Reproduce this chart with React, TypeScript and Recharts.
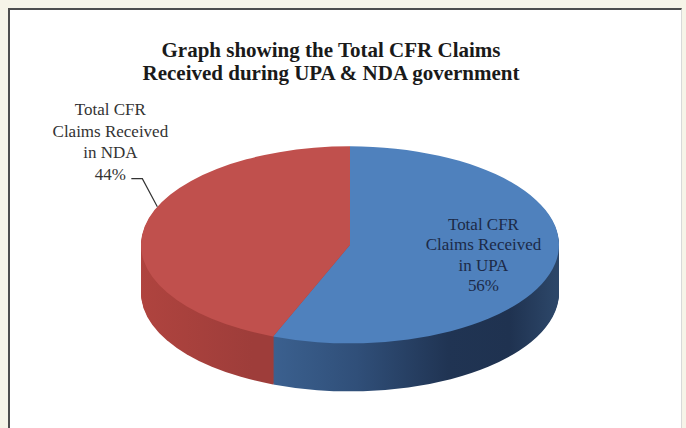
import React from "react";
import { PieChart, Pie, Cell } from "recharts";

// ---- data ----
const categories = ["Total CFR Claims Received in UPA", "Total CFR Claims Received in NDA"];
const shareValues = [56, 44];
const labelLines = [
  ["Total CFR", "Claims Received", "in UPA"],
  ["Total CFR", "Claims Received", "in NDA"],
];
const titleLines = ["Graph showing the Total CFR Claims", "Received during UPA & NDA government"];

const topColors = ["#4f81bd", "#c0504d"];
const sideFills = ["url(#blueSide)", "url(#redSide)"];

const data = categories.map((name, i) => ({ name, value: shareValues[i] }));

// ---- geometry (screen px) ----
const W = 686;
const H = 428;
const CX = 345;
const CY = 242.5;
const R = 209;
const RY = 98.5;
const DEPTH = 48;
const K = RY / R;
const INNER_H = H / K;
const RAD = Math.PI / 180;
const FONT = "'Liberation Serif', 'Times New Roman', serif";

const depthLayers: number[] = [];
for (let i = DEPTH; i >= 1; i--) depthLayers.push(i);

const renderLabel = (props: any) => {
  const { cx, cy, midAngle, outerRadius, index, percent } = props;
  const pct = Math.round(percent * 100) + "%";
  const lines = [...labelLines[index], pct];
  if (index === 0) {
    const r = outerRadius * 0.65;
    const x = cx + r * Math.cos(-midAngle * RAD);
    const y = cy + r * Math.sin(-midAngle * RAD);
    return (
      <g key={`lbl-${index}`} transform={`translate(${x},${y}) scale(1,${1 / K})`}>
        {lines.map((l, i) => (
          <text
            key={i}
            x={0}
            y={(i - 1.5) * 20.4 - 2}
            textAnchor="middle"
            dominantBaseline="central"
            fill="#1c2a48"
            fontFamily={FONT}
            fontSize={17}
          >
            {l}
          </text>
        ))}
      </g>
    );
  }
  const a = midAngle - 12;
  const ex = cx + outerRadius * Math.cos(-a * RAD);
  const ey = cy + outerRadius * Math.sin(-a * RAD);
  const ys = [-97, -75.5, -54, -32.5];
  return (
    <g key={`lbl-${index}`} transform={`translate(${ex},${ey}) scale(1,${1 / K})`}>
      <polyline points="-26,-28 -15,-28 0,0" fill="none" stroke="#333" strokeWidth={1.2} />
      {lines.map((l, i) => (
        <text
          key={i}
          x={-47}
          y={ys[i]}
          textAnchor="middle"
          dominantBaseline="central"
          fill="#333"
          fontFamily={FONT}
          fontSize={17}
        >
          {l}
        </text>
      ))}
    </g>
  );
};

export default function App() {
  return (
    <div
      style={{
        position: "absolute",
        left: 0,
        top: 0,
        width: W,
        height: H,
        overflow: "hidden",
        background: "#f6f4e8",
      }}
    >
      <div
        style={{
          position: "absolute",
          left: 8,
          top: 8,
          width: 671,
          height: 460,
          background: "#fff",
          borderLeft: "2.5px solid #4d4d4d",
          borderTop: "2.5px solid #4d4d4d",
          borderRight: "1px solid #d8d8d8",
        }}
      />
      <div
        style={{
          position: "absolute",
          left: 0,
          top: 0,
          width: W,
          height: INNER_H,
          transform: `scaleY(${K})`,
          transformOrigin: "0 0",
        }}
      >
        <PieChart width={W} height={INNER_H}>
          <defs>
            <linearGradient id="blueSide" gradientUnits="userSpaceOnUse" x1={250} y1={0} x2={555} y2={0}>
              <stop offset="0" stopColor="#3e6595" />
              <stop offset="0.35" stopColor="#304f79" />
              <stop offset="0.65" stopColor="#203453" />
              <stop offset="0.85" stopColor="#1f3250" />
              <stop offset="1" stopColor="#2c4668" />
            </linearGradient>
            <linearGradient id="redSide" gradientUnits="userSpaceOnUse" x1={135} y1={0} x2={252} y2={0}>
              <stop offset="0" stopColor="#b0443f" />
              <stop offset="1" stopColor="#9e3d3a" />
            </linearGradient>
          </defs>
          {depthLayers.map((d) => (
            <Pie
              key={`side-${d}`}
              data={data}
              dataKey="value"
              nameKey="name"
              cx={CX}
              cy={CY / K + d / K}
              outerRadius={R}
              startAngle={90}
              endAngle={-270}
              stroke="none"
              isAnimationActive={false}
              label={false}
              labelLine={false}
            >
              {data.map((_, i) => (
                <Cell key={i} fill={sideFills[i]} />
              ))}
            </Pie>
          ))}
          <Pie
            key="top"
            data={data}
            dataKey="value"
            nameKey="name"
            cx={CX}
            cy={CY / K}
            outerRadius={R}
            startAngle={90}
            endAngle={-270}
            stroke="none"
            isAnimationActive={false}
            label={renderLabel}
            labelLine={false}
          >
            {data.map((_, i) => (
              <Cell key={i} fill={topColors[i]} />
            ))}
          </Pie>
        </PieChart>
      </div>
      <div
        style={{
          position: "absolute",
          left: 0,
          top: 38.5,
          width: 662,
          textAlign: "center",
          fontFamily: FONT,
          fontWeight: "bold",
          fontSize: 21,
          lineHeight: "23px",
          color: "#1a1a1a",
        }}
      >
        {titleLines.map((t, i) => (
          <div key={i}>{t}</div>
        ))}
      </div>
    </div>
  );
}
